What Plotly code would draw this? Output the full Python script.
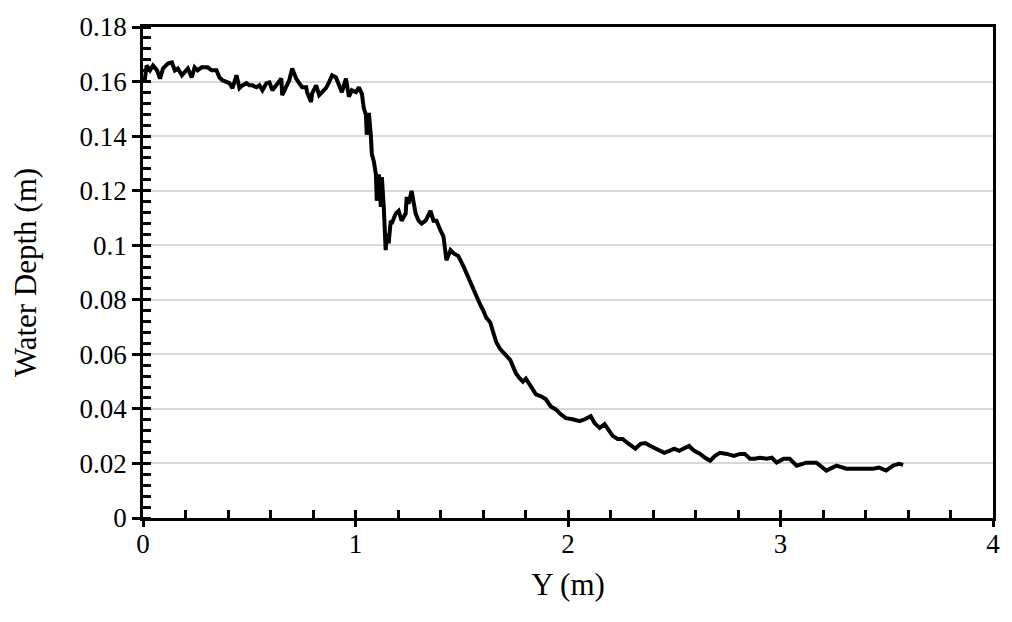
import plotly.graph_objects as go

# Data
y_pos = [0.000, 0.009, 0.017, 0.033, 0.047, 0.066, 0.080, 0.094, 0.117, 0.136,
         0.150, 0.164, 0.183, 0.197, 0.211, 0.229, 0.243, 0.257, 0.276, 0.304,
         0.323, 0.346, 0.360, 0.375, 0.393, 0.407, 0.421, 0.440, 0.454, 0.468,
         0.487, 0.501, 0.515, 0.534, 0.548, 0.562, 0.581, 0.595, 0.609, 0.627,
         0.641, 0.651, 0.655, 0.674, 0.688, 0.702, 0.721, 0.735, 0.749, 0.768,
         0.772, 0.791, 0.796, 0.815, 0.829, 0.843, 0.861, 0.875, 0.890, 0.908,
         0.922, 0.936, 0.955, 0.969, 0.983, 1.002, 1.016, 1.030, 1.039, 1.049,
         1.053, 1.063, 1.072, 1.077, 1.086, 1.096, 1.100, 1.110, 1.119, 1.124,
         1.133, 1.142, 1.147, 1.156, 1.166, 1.170, 1.189, 1.203, 1.217, 1.236,
         1.241, 1.250, 1.264, 1.283, 1.297, 1.311, 1.330, 1.344, 1.353, 1.367,
         1.381, 1.400, 1.414, 1.428, 1.447, 1.461, 1.484, 1.507, 1.521, 1.540,
         1.554, 1.568, 1.587, 1.601, 1.615, 1.634, 1.648, 1.662, 1.681, 1.695,
         1.709, 1.728, 1.742, 1.756, 1.774, 1.788, 1.802, 1.821, 1.835, 1.849,
         1.873, 1.896, 1.919, 1.943, 1.966, 1.990, 2.022, 2.055, 2.079, 2.107,
         2.125, 2.149, 2.172, 2.186, 2.210, 2.233, 2.257, 2.280, 2.303, 2.317,
         2.341, 2.364, 2.388, 2.406, 2.430, 2.453, 2.477, 2.500, 2.523, 2.547,
         2.570, 2.594, 2.622, 2.645, 2.669, 2.692, 2.715, 2.748, 2.781, 2.809,
         2.832, 2.856, 2.879, 2.903, 2.935, 2.959, 2.982, 3.015, 3.043, 3.076,
         3.122, 3.169, 3.216, 3.263, 3.310, 3.371, 3.436, 3.464, 3.497, 3.530,
         3.558, 3.577]

water_depth = [0.1600, 0.1610, 0.1659, 0.1641, 0.1659, 0.1641, 0.1611, 0.1648, 0.1666, 0.1670,
               0.1641, 0.1648, 0.1623, 0.1633, 0.1648, 0.1615, 0.1652, 0.1641, 0.1652, 0.1652,
               0.1641, 0.1641, 0.1615, 0.1604, 0.1597, 0.1594, 0.1576, 0.1623, 0.1576, 0.1586,
               0.1594, 0.1586, 0.1586, 0.1579, 0.1586, 0.1568, 0.1594, 0.1597, 0.1568, 0.1586,
               0.1597, 0.1611, 0.1550, 0.1586, 0.1604, 0.1648, 0.1611, 0.1594, 0.1579, 0.1579,
               0.1561, 0.1525, 0.1557, 0.1586, 0.1550, 0.1561, 0.1576, 0.1597, 0.1623, 0.1615,
               0.1590, 0.1561, 0.1611, 0.1545, 0.1568, 0.1561, 0.1579, 0.1555, 0.1503, 0.1478,
               0.1405, 0.1485, 0.1405, 0.1333, 0.1308, 0.1260, 0.1163, 0.1260, 0.1141, 0.1250,
               0.1141, 0.0982, 0.1043, 0.1007, 0.1090, 0.1079, 0.1116, 0.1126, 0.1090, 0.1116,
               0.1177, 0.1152, 0.1199, 0.1116, 0.1090, 0.1079, 0.1090, 0.1116, 0.1126, 0.1090,
               0.1090, 0.1054, 0.1032, 0.0945, 0.0982, 0.0971, 0.0960, 0.0924, 0.0898, 0.0862,
               0.0837, 0.0808, 0.0782, 0.0761, 0.0735, 0.0717, 0.0681, 0.0645, 0.0619, 0.0608,
               0.0598, 0.0580, 0.0554, 0.0529, 0.0511, 0.0500, 0.0511, 0.0489, 0.0471, 0.0453,
               0.0446, 0.0435, 0.0409, 0.0398, 0.0380, 0.0366, 0.0362, 0.0355, 0.0362, 0.0373,
               0.0348, 0.0330, 0.0344, 0.0330, 0.0301, 0.0290, 0.0290, 0.0275, 0.0264, 0.0254,
               0.0272, 0.0275, 0.0264, 0.0257, 0.0246, 0.0239, 0.0246, 0.0254, 0.0246, 0.0254,
               0.0264, 0.0246, 0.0235, 0.0221, 0.0210, 0.0228, 0.0239, 0.0235, 0.0228, 0.0235,
               0.0235, 0.0217, 0.0217, 0.0221, 0.0217, 0.0221, 0.0203, 0.0217, 0.0217, 0.0192,
               0.0203, 0.0203, 0.0174, 0.0192, 0.0181, 0.0181, 0.0181, 0.0185, 0.0174, 0.0192,
               0.0199, 0.0195]

x_ticks = [0, 1, 2, 3, 4]
x_tick_text = ["0", "1", "2", "3", "4"]
y_ticks = [0, 0.02, 0.04, 0.06, 0.08, 0.10, 0.12, 0.14, 0.16, 0.18]
y_tick_text = ["0", "0.02", "0.04", "0.06", "0.08", "0.1", "0.12", "0.14", "0.16", "0.18"]

FONT = "Liberation Serif, Times New Roman, serif"
TICK_FS = 27
TITLE_FS = 31
TL = 8
TW = 2.5

fig = go.Figure()
fig.add_trace(go.Scatter(x=y_pos, y=water_depth, mode="lines",
                         line=dict(color="black", width=4), showlegend=False))
# empty trace anchoring the overlay axes that draw the outer half of the major ticks
fig.add_trace(go.Scatter(x=[], y=[], xaxis="x2", yaxis="y2", showlegend=False))

fig.update_layout(
    width=1012, height=622,
    margin=dict(l=143, r=15, t=21, b=104),
    paper_bgcolor="white", plot_bgcolor="white",
    font=dict(family=FONT, size=TICK_FS, color="black"),
    xaxis=dict(range=[0, 4], tickvals=x_ticks, ticktext=x_tick_text,
               showgrid=False, zeroline=False,
               showline=True, linecolor="black", linewidth=TW, mirror=True,
               ticks="inside", ticklen=TL, tickwidth=TW, tickcolor="black",
               ticklabelstandoff=0,
               minor=dict(dtick=0.2, ticks="inside", ticklen=TL, tickwidth=TW,
                          tickcolor="black", showgrid=False),
               title=dict(text="Y (m)", font=dict(family=FONT, size=TITLE_FS), standoff=16),
               tickfont=dict(family=FONT, size=TICK_FS)),
    yaxis=dict(range=[0, 0.18], tickvals=y_ticks, ticktext=y_tick_text,
               showgrid=True, gridcolor="#d9d9d9", gridwidth=1.5, zeroline=False,
               showline=True, linecolor="black", linewidth=TW, mirror=True,
               ticks="outside", ticklen=TL, tickwidth=TW, tickcolor="black",
               minor=dict(dtick=0.004, ticks="inside", ticklen=TL, tickwidth=TW,
                          tickcolor="black", showgrid=False),
               title=dict(text="Water Depth (m)", font=dict(family=FONT, size=TITLE_FS), standoff=34),
               tickfont=dict(family=FONT, size=TICK_FS)),
    xaxis2=dict(overlaying="x", anchor="y", side="bottom", range=[0, 4],
                tickvals=x_ticks, showticklabels=False, showgrid=False, zeroline=False,
                showline=False, ticks="outside", ticklen=TL, tickwidth=TW, tickcolor="black"),
    yaxis2=dict(overlaying="y", anchor="x", side="left", range=[0, 0.18],
                tickvals=y_ticks, showticklabels=False, showgrid=False, zeroline=False,
                showline=False, ticks="inside", ticklen=TL, tickwidth=TW, tickcolor="black"),
)

fig.write_html("out.html")
